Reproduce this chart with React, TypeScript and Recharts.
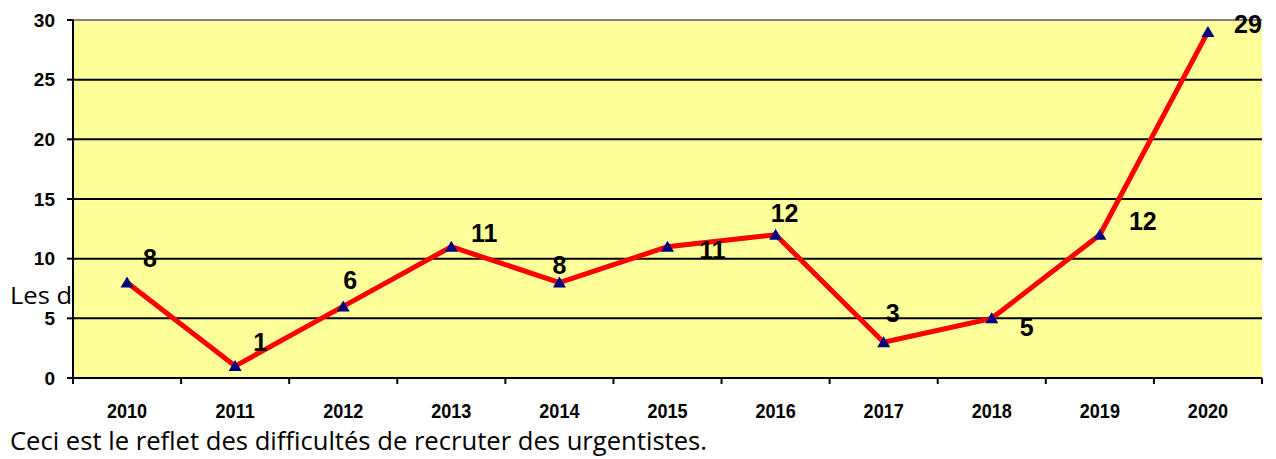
import React from "react";
import {
  LineChart,
  Line,
  XAxis,
  YAxis,
  CartesianGrid,
  ReferenceLine,
  LabelList,
} from "recharts";

const years = ["2010", "2011", "2012", "2013", "2014", "2015", "2016", "2017", "2018", "2019", "2020"];
const values = [8, 1, 6, 11, 8, 11, 12, 3, 5, 12, 29];
const yTicks = [0, 5, 10, 15, 20, 25, 30];

// where each data label sits relative to its point (Excel placed them by hand)
const labelDx = [23, 25, 7, 33, 0, 45, 9, 9, 35, 43, 40];
const labelDy = [-25, -24, -26, -14, -18, 3, -22, -29, 9, -14, -8];

const data = years.map((year, i) => ({ year, value: values[i] }));

const W = 1276;
const H = 459;
const PLOT_LEFT = 73;
const PLOT_RIGHT = 1262;
const HALF_BAND = (PLOT_RIGHT - PLOT_LEFT) / years.length / 2;

const XTick = (props: any) => {
  const { x, y, payload, index } = props;
  const half = payload?.offset || HALF_BAND;
  const last = index === years.length - 1;
  return (
    <g>
      <line x1={x - half} x2={x - half} y1={y} y2={y + 6} stroke="#000" strokeWidth={2} />
      {last && <line x1={x + half} x2={x + half} y1={y} y2={y + 6} stroke="#000" strokeWidth={2} />}
      {/* condensed bold, like Arial Narrow */}
      <text
        transform={`translate(${x}, ${y + 40}) scale(0.86, 1)`}
        textAnchor="middle"
        fill="#000"
        fontSize={21}
        fontWeight="bold"
        fontFamily="'Liberation Sans', Arial, sans-serif"
      >
        {payload.value}
      </text>
    </g>
  );
};

const Triangle = (props: any) => {
  const { cx, cy, index } = props;
  if (cx == null || cy == null) return null;
  return (
    <polygon
      key={index}
      points={`${cx},${cy - 6} ${cx - 6.5},${cy + 5} ${cx + 6.5},${cy + 5}`}
      fill="#000080"
    />
  );
};

const PointLabel = (props: any) => {
  const { x, y, value, index } = props;
  return (
    <text
      x={x + labelDx[index]}
      y={y + labelDy[index]}
      textAnchor="middle"
      dominantBaseline="central"
      fill="#000"
      fontSize={25}
      fontWeight="bold"
      fontFamily="'Liberation Sans', Arial, sans-serif"
    >
      {value}
    </text>
  );
};

export default function App() {
  return (
    <div style={{ position: "absolute", left: 0, top: 0, width: W, height: H, background: "#fff" }}>
      <svg width={W} height={H} style={{ position: "absolute", left: 0, top: 0 }}>
        <text
          x={10}
          y={304}
          fontSize={24}
          fontFamily="'Open Sans', 'Noto Sans', sans-serif"
          fill="#000"
          textLength={62}
          lengthAdjust="spacingAndGlyphs"
        >
          Les d
        </text>
        <text
          x={10}
          y={450}
          fontSize={25}
          fontFamily="'Open Sans', 'Noto Sans', sans-serif"
          fill="#000"
          textLength={697}
          lengthAdjust="spacingAndGlyphs"
        >
          Ceci est le reflet des difficultés de recruter des urgentistes.
        </text>
      </svg>
      <div style={{ position: "absolute", left: 0, top: 0 }}>
        <LineChart width={W} height={H} data={data} margin={{ top: 20, right: 14, bottom: 20, left: 0 }}>
          <CartesianGrid vertical={false} stroke="#000" strokeWidth={2} fill="#FFFF99" fillOpacity={1} />
          <XAxis
            dataKey="year"
            scale="band"
            height={61}
            tickSize={0}
            tickMargin={0}
            tickLine={false}
            axisLine={{ stroke: "#000", strokeWidth: 2 }}
            tick={<XTick />}
            interval={0}
          />
          <YAxis
            domain={[0, 30]}
            ticks={yTicks}
            width={73}
            tickSize={6}
            tickMargin={12}
            axisLine={{ stroke: "#000", strokeWidth: 2 }}
            tickLine={{ stroke: "#000", strokeWidth: 2 }}
            tick={{ fill: "#000", fontSize: 19, fontWeight: "bold", fontFamily: "'Liberation Sans', Arial, sans-serif" }}
          />
          <YAxis
            yAxisId="border"
            orientation="right"
            domain={[0, 30]}
            width={0}
            tick={false}
            tickLine={false}
            axisLine={{ stroke: "#808080", strokeWidth: 2 }}
          />
          <ReferenceLine y={30} stroke="#808080" strokeWidth={2} />
          <Line
            dataKey="value"
            stroke="#FF0000"
            strokeWidth={5}
            dot={<Triangle />}
            activeDot={false}
            isAnimationActive={false}
          >
            <LabelList dataKey="value" content={<PointLabel />} />
          </Line>
        </LineChart>
      </div>
    </div>
  );
}
